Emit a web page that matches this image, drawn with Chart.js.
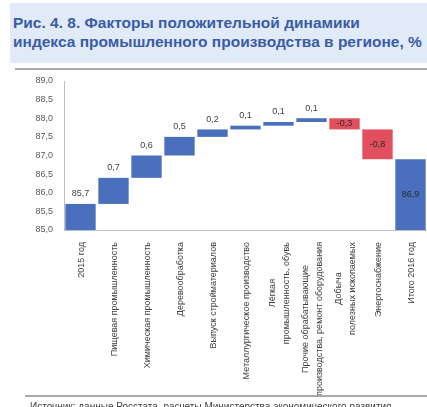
<!DOCTYPE html>
<html lang="ru">
<head>
<meta charset="utf-8">
<script src="https://cdn.jsdelivr.net/npm/chart.js@4/dist/chart.umd.min.js"></script>
<style>
  html, body { margin: 0; padding: 0; background: #fff; }
  body { width: 427px; height: 407px; position: relative; overflow: hidden;
         font-family: "Liberation Sans", Arial, sans-serif; }
  #caption { position: absolute; left: 10px; top: 3px; width: 417px; height: 60px;
             background: #e1eaf7; }
  #caption div { position: absolute; left: 3px; white-space: nowrap; font-weight: bold;
                 font-size: 15.5px; color: #3a5ca5; }
  #rule-top { position: absolute; left: 15px; right: 0; top: 68px; height: 2px; background: #a9a9a9; }
  #rule-bottom { position: absolute; left: 25px; right: 0; top: 395px; height: 2px; background: #a9a9a9; }
  #source { position: absolute; left: 30px; top: 401px; font-size: 10px; color: #404040; white-space: nowrap; }
  #box { position: absolute; left: 0; top: 70px; width: 427px; height: 327px; }
</style>
</head>
<body>
<div id="caption">
  <div style="top:11px">Рис. 4. 8. Факторы положительной динамики</div>
  <div style="top:30px">индекса промышленного производства в регионе, %</div>
</div>
<div id="rule-top"></div>
<div id="box"><canvas id="chart" width="427" height="327"></canvas></div>
<div id="rule-bottom"></div>
<div id="source">Источник: данные Росстата, расчеты Министерства экономического развития</div>

<script>
// Категории (переносы строк — отдельные элементы массива)
const categories = [
  ['2015 год'],
  ['Пищевая промышленность'],
  ['Химическая промышленность'],
  ['Деревообработка'],
  ['Выпуск стройматериалов'],
  ['Металлургическое производство'],
  ['Лёгкая', 'промышленность, обувь'],
  ['Прочие обрабатывающие', 'производства, ремонт оборудования'],
  ['Добыча', 'полезных ископаемых'],
  ['Энергоснабжение'],
  ['Итого 2016 год']
];

// Исходный уровень, вклады факторов и итог
const startValue = 85.7;
const changes = [0.7, 0.6, 0.5, 0.2, 0.1, 0.1, 0.1, -0.3, -0.8];
const endValue = 86.9;

// Шкала
const axisMin = 85.0;
const axisMax = 89.0;
const axisStep = 0.5;

const BLUE = '#4a6fbd';
const RED = '#e2505d';

// Плавающие столбцы каскада
const ranges = [];
const labels = [];
const colors = [];
ranges.push([axisMin, startValue]);
labels.push(startValue);
colors.push(BLUE);
let level = startValue;
changes.forEach(d => {
  const next = Math.round((level + d) * 10) / 10;
  ranges.push([level, next]);
  labels.push(d);
  colors.push(d >= 0 ? BLUE : RED);
  level = next;
});
ranges.push([axisMin, endValue]);
labels.push(endValue);
colors.push(BLUE);

const fmt = v => v.toFixed(1).replace('.', ',');

// Подписи значений над/внутри столбцов
const valueLabels = {
  id: 'valueLabels',
  afterDatasetsDraw(chart) {
    const ctx = chart.ctx;
    const meta = chart.getDatasetMeta(0);
    ctx.save();
    ctx.font = '9px "Liberation Sans", Arial, sans-serif';
    ctx.textAlign = 'center';
    ctx.textBaseline = 'middle';
    meta.data.forEach((bar, i) => {
      const last = i === meta.data.length - 1;
      const neg = i > 0 && !last && labels[i] < 0;
      const top = Math.min(bar.y, bar.base);
      const bottom = Math.max(bar.y, bar.base);
      if (neg || last) {
        ctx.fillStyle = '#2a2a2a';
        ctx.fillText(fmt(labels[i]), bar.x, (top + bottom) / 2);
      } else {
        ctx.fillStyle = '#404040';
        ctx.fillText(fmt(labels[i]), bar.x, top - 10);
      }
    });
    ctx.restore();
  }
};

// Вертикальные подписи категорий: строки выровнены по центру, блок прижат к оси
const categoryLabels = {
  id: 'categoryLabels',
  afterDraw(chart) {
    const ctx = chart.ctx;
    const xs = chart.scales.x;
    const lh = 14;
    ctx.save();
    ctx.font = '9px "Liberation Sans", Arial, sans-serif';
    ctx.fillStyle = '#404040';
    ctx.textAlign = 'center';
    ctx.textBaseline = 'middle';
    categories.forEach((lines, i) => {
      const x = xs.getPixelForValue(i);
      const w = Math.max(...lines.map(t => ctx.measureText(t).width));
      ctx.save();
      ctx.translate(x + 1, xs.top + 12 + w / 2);
      ctx.rotate(-Math.PI / 2);
      lines.forEach((t, j) => {
        ctx.fillText(t, 0, (j - (lines.length - 1) / 2) * lh);
      });
      ctx.restore();
    });
    ctx.restore();
  }
};

new Chart(document.getElementById('chart'), {
  type: 'bar',
  data: {
    labels: categories,
    datasets: [{
      data: ranges,
      backgroundColor: colors,
      borderWidth: 0,
      barPercentage: 0.92,
      categoryPercentage: 1.0
    }]
  },
  options: {
    responsive: false,
    animation: false,
    devicePixelRatio: 1,
    layout: { padding: { top: 11, left: 0, right: 0, bottom: 0 } },
    plugins: { legend: { display: false }, tooltip: { enabled: false }, title: { display: false } },
    scales: {
      x: {
        grid: { display: false },
        border: { display: true, color: '#bfbfbf', width: 1 },
        ticks: { display: false },
        afterFit: s => { s.height = 167; }
      },
      y: {
        min: axisMin,
        max: axisMax,
        grid: { display: false },
        border: { display: true, color: '#bfbfbf', width: 1 },
        ticks: {
          stepSize: axisStep,
          padding: 3,
          color: '#595959',
          font: { size: 9, family: '"Liberation Sans", Arial, sans-serif' },
          callback: v => fmt(v)
        },
        afterFit: s => { s.width = 64; }
      }
    }
  },
  plugins: [valueLabels, categoryLabels]
});
</script>
</body>
</html>
